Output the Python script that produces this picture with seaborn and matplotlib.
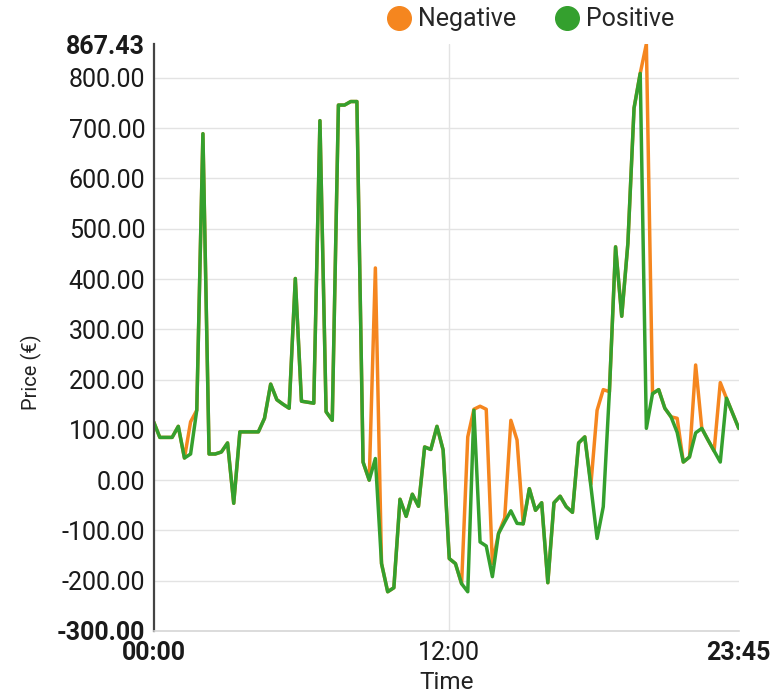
#!/usr/bin/env python3
"""Quarter-hour imbalance prices (negative vs positive) for one day."""

import matplotlib

matplotlib.use("Agg")
import matplotlib.pyplot as plt
import pandas as pd
import seaborn as sns
from matplotlib.lines import Line2D

OUTPUT_PATH = "out.png"

SLOTS = pd.date_range("2024-01-01 00:00", periods=96, freq="15min").strftime("%H:%M").tolist()

POSITIVE = [
    116, 85, 85, 85, 107, 44, 52, 139, 689, 52,
    52, 56, 74, -46, 96, 96, 96, 96, 123, 191,
    160, 151, 143, 401, 157, 155, 153, 715, 136, 119,
    746, 746, 753, 753, 36, 0, 43, -166, -222, -214,
    -38, -72, -28, -52, 66, 61, 107, 60, -156, -166,
    -206, -222, 139, -123, -131, -192, -106, -83, -61, -86,
    -87, -17, -60, -45, -204, -45, -32, -53, -64, 74,
    86, -13, -116, -53, 176, 464, 326, 471, 740, 809,
    103, 172, 180, 143, 126, 95, 36, 46, 94, 103,
    80, 58, 36, 163, 133, 103,
]

NEGATIVE = [
    116, 85, 85, 85, 107, 44, 116, 139, 689, 52,
    52, 56, 74, -46, 96, 96, 96, 96, 123, 191,
    160, 151, 143, 401, 157, 155, 153, 715, 136, 119,
    746, 746, 753, 753, 36, 0, 422, -166, -222, -214,
    -38, -72, -28, -52, 66, 61, 107, 60, -156, -166,
    -206, 86, 141, 147, 141, -166, -106, -75, 119, 80,
    -87, -17, -60, -45, -204, -45, -32, -53, -64, 74,
    86, -8, 139, 180, 176, 464, 326, 471, 740, 809,
    867.43, 172, 180, 143, 126, 123, 36, 46, 229, 103,
    80, 58, 194, 163, 133, 103,
]

SERIES = ["Negative", "Positive"]
COLORS = {"Negative": "#f5861f", "Positive": "#34a02e"}
X_TICK_LABELS = ["00:00", "12:00", "23:45"]
Y_TICKS = [-300, -200, -100, 0, 100, 200, 300, 400, 500, 600, 700, 800, 867.43]


def build_frame() -> pd.DataFrame:
    frames = []
    for name, values in zip(SERIES, [NEGATIVE, POSITIVE]):
        frames.append(pd.DataFrame({"slot": range(len(SLOTS)), "price": values, "series": name}))
    return pd.concat(frames, ignore_index=True)


def main() -> None:
    sns.set_theme(style="white")
    plt.rcParams["font.family"] = ["Roboto", "DejaVu Sans"]

    df = build_frame()
    fig = plt.figure(figsize=(7.76, 6.93), dpi=100)
    ax = fig.add_axes([0.198, 0.0895, 0.754, 0.847])

    sns.lineplot(data=df, x="slot", y="price", hue="series", hue_order=SERIES,
                 palette=COLORS, linewidth=2.5, legend=False, ax=ax)

    ax.set_xlim(0, len(SLOTS) - 1)
    ax.set_ylim(Y_TICKS[0], Y_TICKS[-1])

    # grid: every 100 horizontally, only noon vertically
    for y in Y_TICKS[1:-1]:
        ax.axhline(y, color="#e3e3e3", linewidth=1.0, zorder=0)
    ax.axvline(SLOTS.index("12:00"), color="#e3e3e3", linewidth=1.0, zorder=0)

    ax.set_yticks(Y_TICKS)
    ax.set_yticklabels([f"{v:.2f}" for v in Y_TICKS])
    ax.set_xticks([SLOTS.index(t) for t in X_TICK_LABELS])
    ax.set_xticklabels(X_TICK_LABELS)
    ax.tick_params(axis="y", length=0, pad=6, labelsize=18, labelcolor="#1a1a1a")
    ax.tick_params(axis="x", length=0, pad=7, labelsize=18, labelcolor="#1a1a1a")
    for labels in (ax.get_yticklabels(), ax.get_xticklabels()):
        labels[0].set_fontweight("bold")
        labels[-1].set_fontweight("bold")

    for side in ("top", "right"):
        ax.spines[side].set_visible(False)
    ax.spines["left"].set_color("#444444")
    ax.spines["left"].set_linewidth(1.6)
    ax.spines["bottom"].set_color("#d6d6d6")
    ax.spines["bottom"].set_linewidth(1.2)

    ax.set_xlabel("Time", fontsize=17.5, color="#222222")
    ax.set_ylabel("Price (€)", fontsize=14.5, color="#222222")
    ax.xaxis.set_label_coords(0.501, -0.069)
    ax.yaxis.set_label_coords(-0.19, 0.441)

    handles = [
        Line2D([], [], marker="o", linestyle="", markersize=17, color=COLORS[name])
        for name in SERIES
    ]
    fig.legend(handles, SERIES, loc="center", bbox_to_anchor=(0.684, 0.972), ncol=2,
               frameon=False, fontsize=18, handlelength=0.9, handletextpad=0.3,
               columnspacing=1.6, borderaxespad=0)

    fig.savefig(OUTPUT_PATH, dpi=100)
    plt.close(fig)


if __name__ == "__main__":
    main()
